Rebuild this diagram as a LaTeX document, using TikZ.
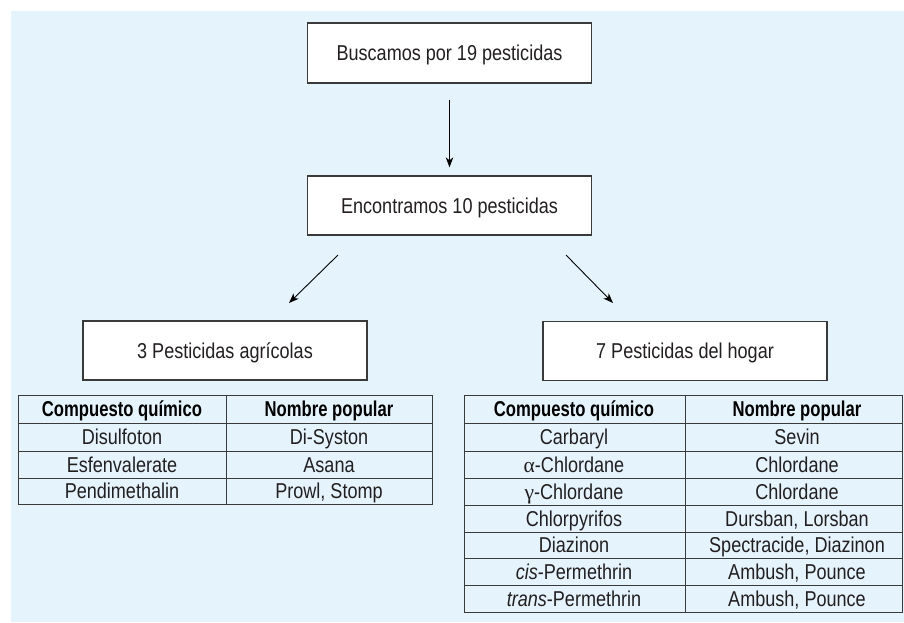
\documentclass[tikz,border=0pt]{standalone}
\usepackage{fontspec}
\setmainfont{Liberation Sans}[FakeStretch=0.84]
\newfontfamily\hdrfont{Liberation Sans}[FakeStretch=0.775]
\newfontfamily\grkfont{Liberation Serif}
\usetikzlibrary{arrows.meta}
\definecolor{bgblue}{HTML}{E5F4FC}
\definecolor{linec}{HTML}{3A3A3A}
\definecolor{txtc}{HTML}{231F20}
\begin{document}
\begin{tikzpicture}[x=1pt,y=-1pt,
  txt/.style={font=\fontsize{21.5}{25}\selectfont, text=txtc, text height=18pt, text depth=2.6pt},
  box/.style={txt, draw=linec, line width=1.3pt, fill=white, inner sep=0pt, minimum width=284pt, minimum height=59pt},
  cell/.style={txt, inner sep=0pt},
  hcell/.style={cell, font=\hdrfont\bfseries\fontsize{21.5}{25}\selectfont, text=black},
  arr/.style={draw=black, line width=0.9pt, -{Stealth[length=10pt,width=7.5pt,inset=3pt]}},
  gridline/.style={draw=linec, line width=1pt}]
\useasboundingbox (0,0) rectangle (904,622);
\fill[bgblue] (11,11) rectangle (904,622);

% boxes
\node[box, minimum height=60pt] (b1) at (449.5,53) {Buscamos por 19 pesticidas};
\node[box] (b2) at (449.5,205.5) {Encontramos 10 pesticidas};
\node[box] (b3) at (225,350.5) {3 Pesticidas agrícolas};
\node[box] (b4) at (685,351) {7 Pesticidas del hogar};

% arrows
\draw[arr, shorten <=16pt, shorten >=8pt] (b1) -- (b2);
\coordinate (la) at (338,255);
\coordinate (lb) at (289,303);
\coordinate (ra) at (566,255);
\coordinate (rb) at (613,303);
\draw[arr] (la) -- (lb);
\draw[arr] (ra) -- (rb);

% left table
\draw[gridline] (18,395) rectangle (432,504);
\draw[gridline] (226,395) -- (226,504);
\foreach \yy in {423,451,478} \draw[gridline] (18,\yy) -- (432,\yy);
\node[hcell] (lh1) at (122,409) {Compuesto químico};
\node[hcell] (lh2) at (329,409) {Nombre popular};
\node[cell] (l1a) at (122,437) {Disulfoton};
\node[cell] (l1b) at (329,437) {Di-Syston};
\node[cell] (l2a) at (122,464.5) {Esfenvalerate};
\node[cell] (l2b) at (329,464.5) {Asana};
\node[cell] (l3a) at (122,491) {Pendimethalin};
\node[cell] (l3b) at (329,491) {Prowl, Stomp};

% right table
\draw[gridline] (464,395) rectangle (902,612);
\draw[gridline] (685,395) -- (685,612);
\foreach \yy in {423,451,478,505,532,558,585} \draw[gridline] (464,\yy) -- (902,\yy);
\node[hcell] (rh1) at (574,409) {Compuesto químico};
\node[hcell] (rh2) at (797,409) {Nombre popular};
\node[cell] (r1a) at (574,437) {Carbaryl};
\node[cell] (r1b) at (797,437) {Sevin};
\node[cell] (r2a) at (574,464.5) {{\grkfont α}-Chlordane};
\node[cell] (r2b) at (797,464.5) {Chlordane};
\node[cell] (r3a) at (574,491.5) {{\grkfont γ}-Chlordane};
\node[cell] (r3b) at (797,491.5) {Chlordane};
\node[cell] (r4a) at (574,518.5) {Chlorpyrifos};
\node[cell] (r4b) at (797,518.5) {Dursban, Lorsban};
\node[cell] (r5a) at (574,545) {Diazinon};
\node[cell] (r5b) at (797,545) {Spectracide, Diazinon};
\node[cell] (r6a) at (574,571.5) {\textit{cis}-Permethrin};
\node[cell] (r6b) at (797,571.5) {Ambush, Pounce};
\node[cell] (r7a) at (574,598.5) {\textit{trans}-Permethrin};
\node[cell] (r7b) at (797,598.5) {Ambush, Pounce};
\end{tikzpicture}
\end{document}
